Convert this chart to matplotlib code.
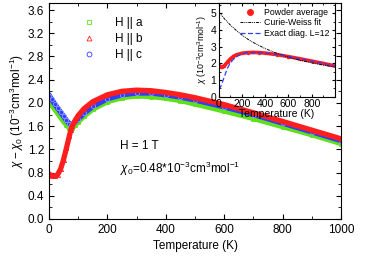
import matplotlib
matplotlib.use("Agg")
import matplotlib.pyplot as plt
from matplotlib.lines import Line2D
from matplotlib.ticker import MultipleLocator

plt.rcParams['font.family'] = ['Liberation Sans', 'DejaVu Sans']
plt.rcParams['mathtext.fontset'] = 'custom'
plt.rcParams['mathtext.rm'] = 'Liberation Sans'
plt.rcParams['mathtext.it'] = 'Liberation Sans:italic'
plt.rcParams['xtick.direction'] = 'in'
plt.rcParams['ytick.direction'] = 'in'

# main panel: chi - chi0 for the three field directions
temp = [2, 10, 20, 30, 40, 50, 60, 70, 75, 80, 90, 100, 120, 150, 200, 250,
        300, 350, 400, 450, 500, 600, 700, 800, 900, 1000]
chi_a = [2.02, 1.96, 1.89, 1.82, 1.75, 1.68, 1.62, 1.57, 1.55, 1.57, 1.62, 1.67,
         1.77, 1.89, 2.02, 2.09, 2.12, 2.11, 2.08, 2.04, 1.98, 1.86, 1.73, 1.59,
         1.45, 1.30]
chi_b = [0.77, 0.745, 0.735, 0.765, 0.86, 1.02, 1.22, 1.43, 1.53, 1.60, 1.70, 1.78,
         1.90, 2.02, 2.14, 2.20, 2.22, 2.21, 2.18, 2.14, 2.09, 1.97, 1.83, 1.68,
         1.53, 1.38]
chi_c = [2.12, 2.06, 1.98, 1.91, 1.84, 1.77, 1.70, 1.64, 1.62, 1.63, 1.67, 1.72,
         1.82, 1.94, 2.07, 2.14, 2.17, 2.17, 2.14, 2.10, 2.05, 1.93, 1.80, 1.65,
         1.50, 1.35]

# inset: powder average, exact diagonalisation, Curie-Weiss fit
temp_in = [2, 10, 20, 30, 40, 50, 60, 80, 100, 125, 150, 200, 250, 300, 350,
           400, 500, 600, 700, 800, 900, 1000]
powder = [1.88, 1.82, 1.79, 1.79, 1.81, 1.86, 1.93, 2.10, 2.25, 2.40, 2.50, 2.60,
          2.64, 2.65, 2.64, 2.61, 2.52, 2.40, 2.27, 2.13, 1.99, 1.84]
exact = [0.45, 0.50, 0.62, 0.80, 1.00, 1.20, 1.40, 1.75, 2.00, 2.22, 2.38, 2.56,
         2.63, 2.65, 2.64, 2.61, 2.52, 2.40, 2.27, 2.13, 1.99, 1.84]
temp_cw = [0, 50, 100, 150, 200, 250, 300, 400, 500, 600, 700, 800, 900, 1000]
curie = [5.10, 4.67, 4.30, 3.98, 3.70, 3.45, 3.24, 2.88, 2.60, 2.37, 2.18, 2.02,
         1.89, 1.77]
inset_xticks = [0, 200, 400, 600, 800]

green = '#5fe01a'
red = '#ff1e1e'
blue = '#2f3dff'

fig = plt.figure(figsize=(3.82, 2.6), dpi=100)
ax = fig.add_axes([0.128, 0.158, 0.765, 0.830])

ax.plot(temp, chi_a, color=green, lw=3.8, marker='s', ms=3, mfc='none', mew=0.6)
ax.plot(temp, chi_c, color=blue, lw=3.8, marker='o', ms=3, mfc='none', mew=0.6,
        mec='#8f9cff')
ax.plot(temp, chi_b, color=red, lw=3.8, marker='^', ms=3, mfc='none', mew=0.6,
        solid_joinstyle='round')

handles = [Line2D([], [], ls='none', marker='s', ms=3, mfc='none', mec=green, mew=0.6),
           Line2D([], [], ls='none', marker='^', ms=3.5, mfc='none', mec=red, mew=0.6),
           Line2D([], [], ls='none', marker='o', ms=3.5, mfc='none', mec=blue, mew=0.6)]
ax.legend(handles, ['H || a', 'H || b', 'H || c'], loc='upper left',
          bbox_to_anchor=(0.06, 0.985), frameon=False, fontsize=8.5,
          handletextpad=1.2, labelspacing=0.35)

ax.set_xlim(0, 1000)
ax.set_ylim(0, 3.72)
ax.xaxis.set_major_locator(MultipleLocator(200))
ax.xaxis.set_minor_locator(MultipleLocator(100))
ax.yaxis.set_major_locator(MultipleLocator(0.4))
ax.yaxis.set_minor_locator(MultipleLocator(0.2))
ax.tick_params(which='both', top=True, right=True, labelsize=8.5)
ax.tick_params(which='major', length=3.5)
ax.tick_params(which='minor', length=2)
ax.set_xlabel('Temperature (K)', fontsize=8.5, labelpad=3)
ax.set_ylabel(r'$\chi-\chi_0$ (10$^{-3}$cm$^3$mol$^{-1}$)', fontsize=8.5, labelpad=1)

ax.text(0.245, 0.325, 'H = 1 T', transform=ax.transAxes, fontsize=8.5)
ax.text(0.245, 0.215, r'$\chi_0$=0.48*10$^{-3}$cm$^3$mol$^{-1}$',
        transform=ax.transAxes, fontsize=8.5)

# inset
ins = fig.add_axes([0.572, 0.628, 0.305, 0.360])
ins.plot(temp_in, powder, color=red, lw=2.6, marker='o', ms=2.5, mew=0)
ins.plot(temp_cw, curie, color='black', lw=0.7, ls=(0, (3, 1, 1, 1, 1, 1)))
ins.plot(temp_in, exact, color=blue, lw=0.9, ls=(0, (4, 2)))
ins_handles = [Line2D([], [], ls='none', marker='o', ms=4, color=red),
               Line2D([], [], color='black', lw=0.7, ls=(0, (3, 1, 1, 1, 1, 1))),
               Line2D([], [], color=blue, lw=0.9, ls=(0, (4, 2)))]
ins.legend(ins_handles, ['Powder average', 'Curie-Weiss fit', 'Exact diag. L=12'],
           loc='upper right', bbox_to_anchor=(1.02, 1.03), frameon=False,
           fontsize=6.3, handlelength=2.2, handletextpad=0.5, labelspacing=0.15)
ins.set_xlim(0, 1000)
ins.set_ylim(0, 5.6)
ins.set_xticks(inset_xticks)
ins.xaxis.set_minor_locator(MultipleLocator(100))
ins.yaxis.set_major_locator(MultipleLocator(1))
ins.yaxis.set_minor_locator(MultipleLocator(0.5))
ins.tick_params(which='both', top=True, right=True, labelsize=7.5, pad=1.5)
ins.tick_params(which='major', length=2.5)
ins.tick_params(which='minor', length=1.5)
ins.set_xlabel('Temperature (K)', fontsize=7.5, labelpad=0)
ins.set_ylabel(r'$\chi$ (10$^{-3}$cm$^3$mol$^{-1}$)', fontsize=6.3, labelpad=1)

fig.savefig('out.png', dpi=100)
